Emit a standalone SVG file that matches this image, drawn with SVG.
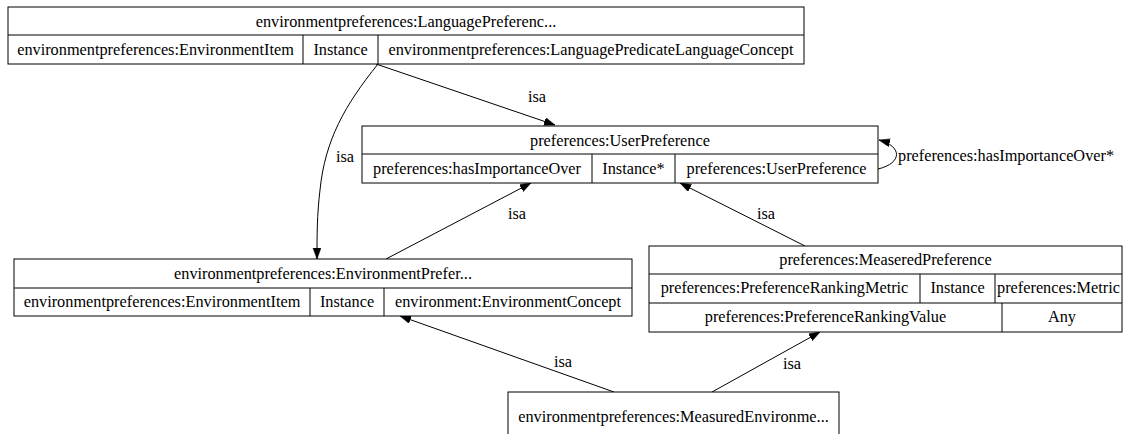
<svg xmlns="http://www.w3.org/2000/svg" width="1130" height="434" viewBox="0 0 1130 434" font-family="Liberation Serif, Times New Roman, DejaVu Serif, serif" font-size="16.3">
<style>
.b{fill:#fff;stroke:#000;stroke-width:1}
.l{fill:none;stroke:#000;stroke-width:1}
text{font-family:'Liberation Serif','Times New Roman','DejaVu Serif',serif;font-size:16.3px;fill:#000;text-anchor:middle}
.e{fill:none;stroke:#000;stroke-width:1;marker-end:url(#ah)}
</style>
<defs>
<marker id="ah" markerUnits="userSpaceOnUse" markerWidth="12" markerHeight="9" refX="11" refY="4" orient="auto">
<path d="M0,0 L11,4 L0,8 z" fill="#000" stroke="#000" stroke-width="0.5"/>
</marker>
</defs>
<rect width="1130" height="434" fill="#fff"/>
<g id="edges">
<path class="e" d="M376,64 L555,125"/>
<text x="537" y="102">isa</text>
<path class="e" d="M378,64 C345,105 325,140 320,190 C317,215 317,235 317,259"/>
<text x="345" y="162">isa</text>
<path class="e" d="M386,259 L531,183"/>
<text x="517" y="219">isa</text>
<path class="e" d="M805,246 L680,183"/>
<text x="766" y="219">isa</text>
<path class="e" d="M878,169 C903,163 902,146 879,140"/>
<text x="898" y="161" style="text-anchor:start">preferences:hasImportanceOver*</text>
<path class="e" d="M614,392 L400,316"/>
<text x="563" y="367">isa</text>
<path class="e" d="M712,392 L820,332"/>
<text x="792" y="369">isa</text>
</g>
<g id="n_language">
<rect class="b" x="8" y="7" width="796" height="57"/>
<path class="l" d="M8,35 H804 M303,35 V64 M378,35 V64"/>
<text x="406" y="27">environmentpreferences:LanguagePreferenc...</text>
<text x="155.5" y="55">environmentpreferences:EnvironmentItem</text>
<text x="340.5" y="55">Instance</text>
<text x="591" y="55">environmentpreferences:LanguagePredicateLanguageConcept</text>
</g>
<g id="n_userpref">
<rect class="b" x="362" y="126" width="516" height="57"/>
<path class="l" d="M362,154 H878 M592,154 V183 M675,154 V183"/>
<text x="620" y="146">preferences:UserPreference</text>
<text x="477" y="174">preferences:hasImportanceOver</text>
<text x="633.5" y="174">Instance*</text>
<text x="776.5" y="174">preferences:UserPreference</text>
</g>
<g id="n_envpref">
<rect class="b" x="14" y="259" width="618" height="57"/>
<path class="l" d="M14,288 H632 M310,288 V316 M384,288 V316"/>
<text x="323" y="279">environmentpreferences:EnvironmentPrefer...</text>
<text x="162" y="307">environmentpreferences:EnvironmentItem</text>
<text x="347" y="307">Instance</text>
<text x="508" y="307">environment:EnvironmentConcept</text>
</g>
<g id="n_measpref">
<rect class="b" x="649" y="246" width="473" height="86"/>
<path class="l" d="M649,274 H1122 M649,303 H1122 M920,274 V303 M995,274 V303 M1002,303 V332"/>
<text x="885.5" y="265">preferences:MeaseredPreference</text>
<text x="784.5" y="293">preferences:PreferenceRankingMetric</text>
<text x="957.5" y="293">Instance</text>
<text x="1058.5" y="293">preferences:Metric</text>
<text x="825.5" y="322">preferences:PreferenceRankingValue</text>
<text x="1062" y="322">Any</text>
</g>
<g id="n_measenv">
<rect class="b" x="508" y="392" width="331" height="60"/>
<text x="673.5" y="422">environmentpreferences:MeasuredEnvironme...</text>
</g>
</svg>
